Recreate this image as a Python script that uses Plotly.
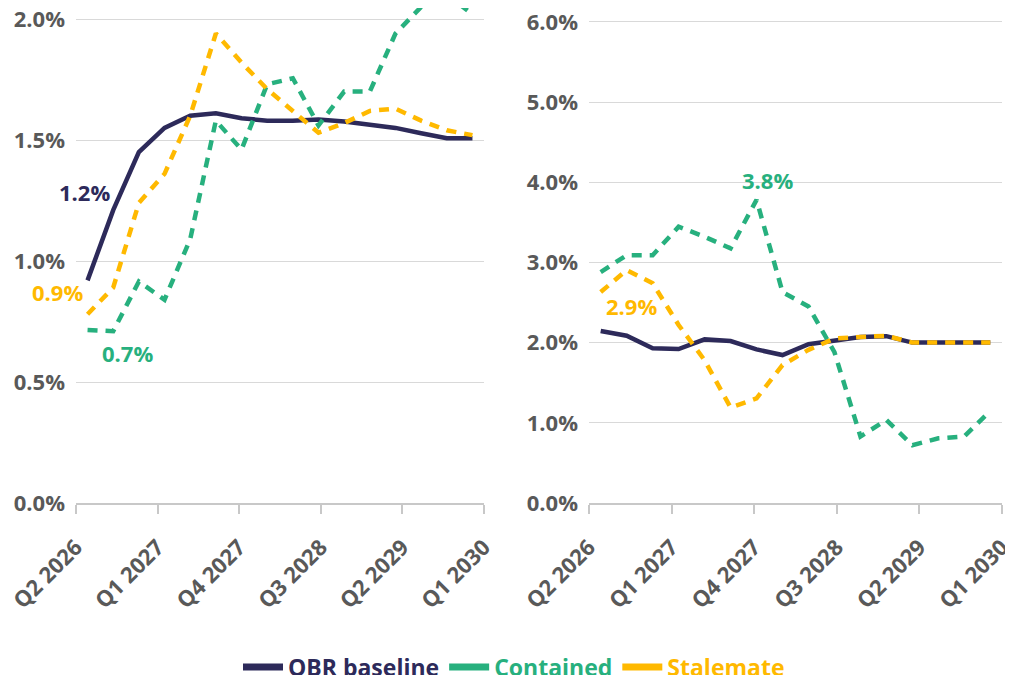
import plotly.graph_objects as go

quarters = ["Q2 2026", "Q3 2026", "Q4 2026", "Q1 2027", "Q2 2027", "Q3 2027", "Q4 2027", "Q1 2028",
            "Q2 2028", "Q3 2028", "Q4 2028", "Q1 2029", "Q2 2029", "Q3 2029", "Q4 2029", "Q1 2030"]
tick_labels = ["Q2 2026", "Q1 2027", "Q4 2027", "Q3 2028", "Q2 2029", "Q1 2030"]

# Left panel
left_obr = [0.92, 1.21, 1.45, 1.55, 1.60, 1.61, 1.59, 1.58, 1.58, 1.585, 1.576, 1.565, 1.55, 1.528, 1.507, 1.507]
left_contained = [0.715, 0.71, 0.915, 0.84, 1.09, 1.58, 1.46, 1.73, 1.755, 1.56, 1.70, 1.70, 1.94, 2.05, 2.10, 2.02]
left_stalemate = [0.78, 0.89, 1.24, 1.36, 1.60, 1.94, 1.82, 1.71, 1.62, 1.53, 1.57, 1.62, 1.63, 1.58, 1.54, 1.52]
left_yticks = [0.0, 0.5, 1.0, 1.5, 2.0]

# Right panel
right_obr = [2.145, 2.086, 1.93, 1.92, 2.04, 2.02, 1.915, 1.845, 1.98, 2.03, 2.07, 2.08, 2.00, 2.00, 2.00, 2.00]
right_contained = [2.88, 3.09, 3.09, 3.445, 3.32, 3.175, 3.78, 2.63, 2.45, 1.88, 0.83, 1.035, 0.72, 0.807, 0.83, 1.15]
right_stalemate = [2.63, 2.905, 2.74, 2.22, 1.78, 1.19, 1.305, 1.72, 1.91, 2.05, 2.07, 2.085, 2.00, 2.00, 2.00, 2.00]
right_yticks = [0, 1, 2, 3, 4, 5, 6]

NAVY = "#2d2a5a"
GREEN = "#27b07e"
YELLOW = "#ffb900"
GREY = "#595959"
FONT = "Open Sans"

x = list(range(len(quarters)))
tickvals = [-0.45 + i * 3.18 for i in range(6)]

fig = go.Figure()

def add_panel(obr, cont, stal, xa, ya):
    fig.add_trace(go.Scatter(x=x, y=obr, mode="lines", line=dict(color=NAVY, width=4.5),
                             xaxis=xa, yaxis=ya, showlegend=False, hovertext=quarters))
    fig.add_trace(go.Scatter(x=x, y=cont, mode="lines", line=dict(color=GREEN, width=4.5, dash="10px,8px"),
                             xaxis=xa, yaxis=ya, showlegend=False, hovertext=quarters))
    fig.add_trace(go.Scatter(x=x, y=stal, mode="lines", line=dict(color=YELLOW, width=4.5, dash="10px,8px"),
                             xaxis=xa, yaxis=ya, showlegend=False, hovertext=quarters))

add_panel(left_obr, left_contained, left_stalemate, "x", "y")
add_panel(right_obr, right_contained, right_stalemate, "x2", "y2")

for name, col in [("OBR baseline", NAVY), ("Contained", GREEN), ("Stalemate", YELLOW)]:
    fig.add_trace(go.Scatter(x=[None], y=[None], mode="lines",
                             name=f"<b><span style='color:{col}'>{name}</span></b>",
                             line=dict(color=col, width=7), xaxis="x", yaxis="y"))

# page has an 8px body margin on every side: figure pixel = page pixel - 8
OFF = 8
W = 1013 - 2 * OFF
H = 683 - 2 * OFF
PLOT_BOTTOM = 503 - OFF

xaxis_common = dict(range=[-0.45, 15.45], tickvals=tickvals, ticktext=[f"<b>{t}</b>" for t in tick_labels],
                    tickangle=-45, automargin=False, ticklabeloverflow="allow", ticklabelstandoff=12,
                    showgrid=False, zeroline=False, showline=True, linecolor="#c8c8c8", linewidth=1.5,
                    ticks="outside", ticklen=9, tickcolor="#c8c8c8", tickwidth=1.5,
                    tickfont=dict(family=FONT, size=22, color=GREY), fixedrange=True)
yaxis_common = dict(showgrid=True, gridcolor="#d9d9d9", gridwidth=1, zeroline=False, showline=False,
                    ticks="", automargin=False, ticklabeloverflow="allow", ticklabelstandoff=10,
                    tickfont=dict(family=FONT, size=22, color=GREY))

fig.update_layout(
    width=W, height=H,
    margin=dict(l=0, r=0, t=0, b=H - PLOT_BOTTOM, autoexpand=False),
    paper_bgcolor="white", plot_bgcolor="white",
    xaxis=dict(domain=[(76 - OFF) / W, (484 - OFF) / W], anchor="y", **xaxis_common),
    xaxis2=dict(domain=[(589 - OFF) / W, (1002 - OFF) / W], anchor="y2", **xaxis_common),
    yaxis=dict(domain=[0, 1], anchor="x", range=[0, PLOT_BOTTOM / 242.0], tickvals=left_yticks,
               ticktext=[f"<b>{v:.1f}%</b>" for v in left_yticks], **yaxis_common),
    yaxis2=dict(domain=[0, 1], anchor="x2", range=[0, PLOT_BOTTOM / 80.2], tickvals=right_yticks,
                ticktext=[f"<b>{v:.1f}%</b>" for v in right_yticks], **yaxis_common),
    legend=dict(orientation="h", x=(514 - OFF) / W, xanchor="center",
                y=-(659 - PLOT_BOTTOM) / PLOT_BOTTOM, yanchor="middle",
                font=dict(family=FONT, size=23, color=NAVY), itemwidth=40, tracegroupgap=0,
                bgcolor="rgba(0,0,0,0)"),
    showlegend=True,
)

def label(text, xv, yv, col, xref, yref, xanchor="center", xshift=0):
    fig.add_annotation(text=f"<b>{text}</b>", x=xv, y=yv, xref=xref, yref=yref, showarrow=False,
                       font=dict(family=FONT, size=22, color=col), xanchor=xanchor, yanchor="middle",
                       xshift=xshift)

label(f"{left_obr[1]:.1f}%", -0.12, 1.285, NAVY, "x", "y")
label(f"{left_stalemate[1]:.1f}%", -0.45, 0.87, YELLOW, "x", "y", xanchor="right", xshift=9)
label(f"{left_contained[1]:.1f}%", 1.56, 0.62, GREEN, "x", "y")
label(f"{right_contained[6]:.1f}%", 6.42, 4.03, GREEN, "x2", "y2")
label(f"{right_stalemate[1]:.1f}%", 1.19, 2.46, YELLOW, "x2", "y2")

fig.write_html("out.html")
